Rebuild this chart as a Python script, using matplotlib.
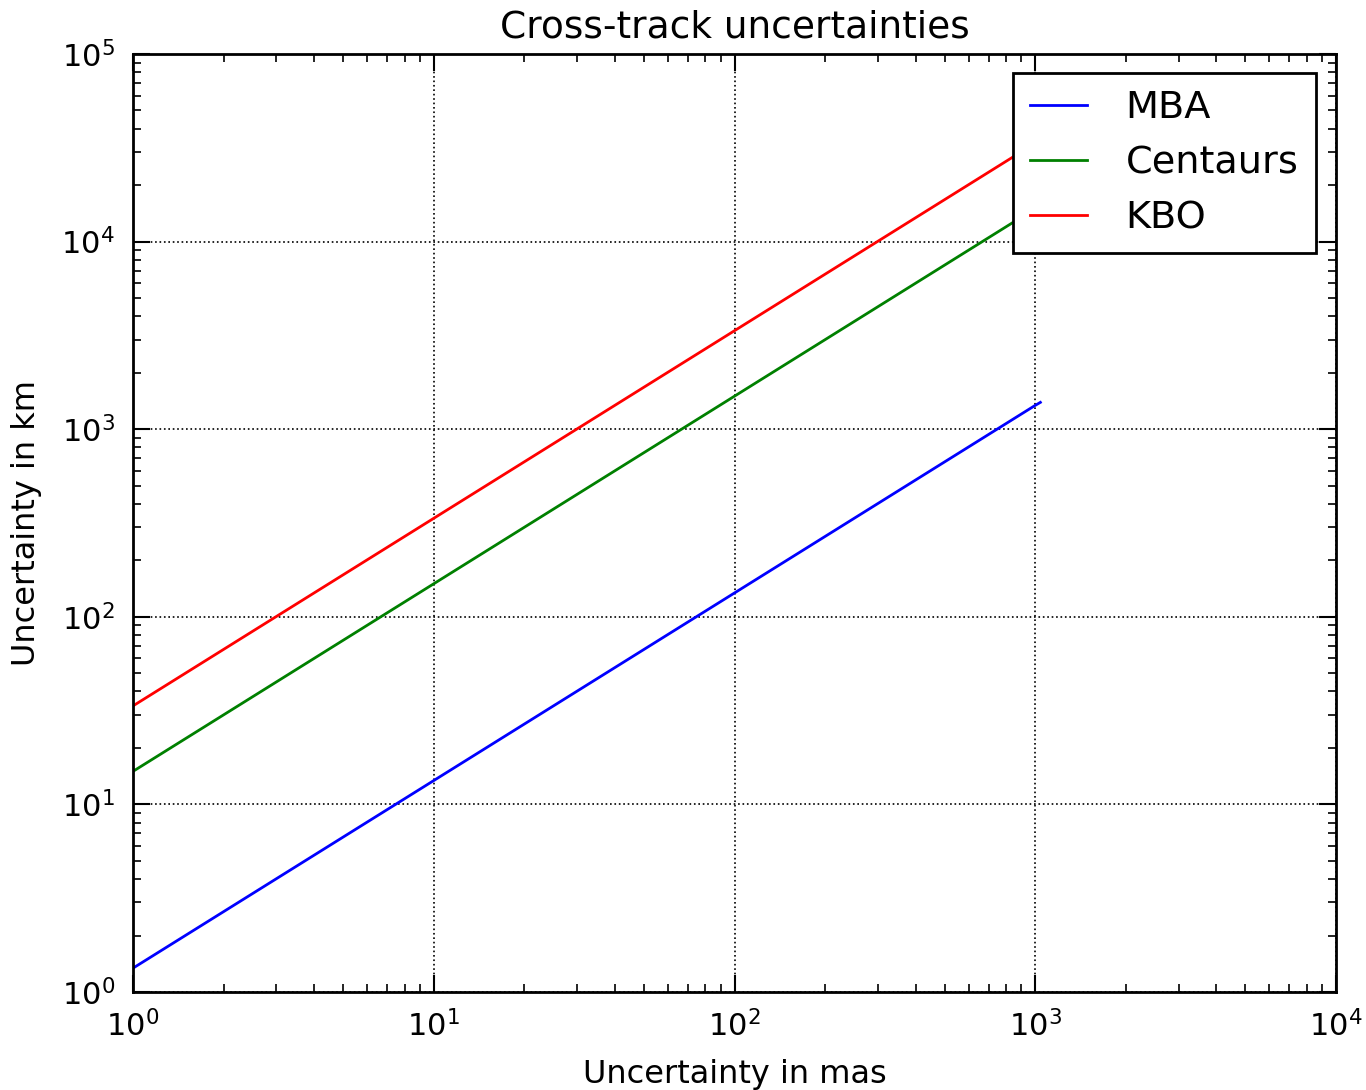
import matplotlib
matplotlib.use('Agg')
import matplotlib.pyplot as plt

# values (log-log, slope ~1)
x_mas = [1, 10, 100, 1000, 1040]
mba_km = [1.34, 13.4, 134, 1340, 1390]
centaur_km = [15.0, 150, 1500, 15000, 15600]
kbo_km = [33.5, 335, 3350, 33500, 34800]

plt.rcParams['xtick.direction'] = 'in'
plt.rcParams['ytick.direction'] = 'in'
plt.rcParams['xtick.top'] = True
plt.rcParams['ytick.right'] = True

fig = plt.figure(figsize=(13.66, 10.9), dpi=100)
ax = fig.add_axes([133 / 1366, 1 - 992 / 1090, (1336 - 133) / 1366, (992 - 54) / 1090])

ax.plot(x_mas, mba_km, color='blue', lw=2, label='MBA')
ax.plot(x_mas, centaur_km, color=(0, 0.5, 0), lw=2, label='Centaurs')
ax.plot(x_mas, kbo_km, color='red', lw=2, label='KBO')

ax.set_xscale('log')
ax.set_yscale('log')
ax.set_xlim(1, 1e4)
ax.set_ylim(1, 1e5)

ax.grid(True, which='major', color='black', linestyle=':', linewidth=1.2)
ax.tick_params(which='major', length=12, width=1.5, labelsize=22, pad=13)
ax.tick_params(which='minor', length=6, width=1.2)
for s in ax.spines.values():
    s.set_linewidth(2)

ax.set_title('Cross-track uncertainties', fontsize=27, pad=12)
ax.set_xlabel('Uncertainty in mas', fontsize=23, labelpad=12)
ax.set_ylabel('Uncertainty in km', fontsize=23, labelpad=14)

leg = ax.legend(loc='upper right', fontsize=27.5, fancybox=False, framealpha=1,
                edgecolor='black', handlelength=1.5, borderpad=0.45,
                labelspacing=0.5, handletextpad=1.0, borderaxespad=0,
                bbox_to_anchor=(0.983, 0.98))
leg.get_frame().set_linewidth(2)

fig.savefig('out.png', dpi=100)
